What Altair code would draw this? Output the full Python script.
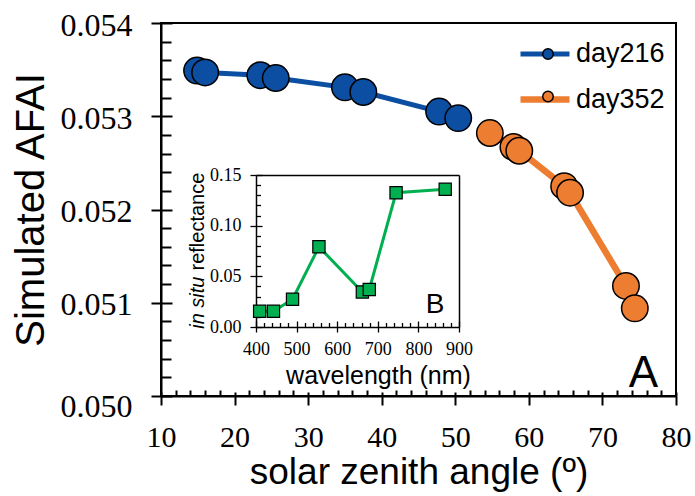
import altair as alt
import pandas as pd

# ---------------- data ----------------
series = ["day216", "day352"]
colors = ["#0b4ea2", "#ed7d31"]
sza_216 = [14.9, 16.0, 23.5, 25.6, 35.0, 37.5, 47.8, 50.4]
afai_216 = [0.05349, 0.05347, 0.05344, 0.05341, 0.05331, 0.05326, 0.05305, 0.05298]
sza_352 = [54.7, 57.9, 58.7, 64.8, 65.6, 73.2, 74.4]
afai_352 = [0.05282, 0.05267, 0.05263, 0.05225, 0.05218, 0.05118, 0.05094]

wavelength = [409, 443, 490, 555, 662, 679, 745, 866]
reflectance = [0.0155, 0.0155, 0.0274, 0.0791, 0.0346, 0.0370, 0.1325, 0.1359]

x_major = [10, 20, 30, 40, 50, 60, 70, 80]
x_minor = [v for v in range(12, 80, 2) if v % 10]
y_major = [0.050, 0.051, 0.052, 0.053, 0.054]
y_minor = [round(0.050 + 0.0002 * i, 4) for i in range(1, 20) if i % 5]
in_x_major = [400, 500, 600, 700, 800, 900]
in_x_minor = [v for v in range(420, 900, 20) if v % 100]
in_y_major = [0.0, 0.05, 0.10, 0.15]
in_y_minor = [round(0.01 * i, 2) for i in range(1, 15) if i % 5]
panel_labels = ["A", "B"]

main_df = pd.DataFrame({
    "sza": sza_216 + sza_352,
    "afai": afai_216 + afai_352,
    "series": [series[0]] * len(sza_216) + [series[1]] * len(sza_352),
})
inset_df = pd.DataFrame({"wl": wavelength, "refl": reflectance})

# ---------------- geometry ----------------
W, H = 515, 373
IN_L, IN_R, IN_T, IN_B = 95, 298, 152, 304

SERIF = "Liberation Serif"
SANS = "Liberation Sans"

xs_main = alt.Scale(domain=[10, 80], nice=False, zero=False)
ys_main = alt.Scale(domain=[0.050, 0.054], nice=False, zero=False)
xs_in = alt.Scale(domain=[400, 900], range=[IN_L, IN_R], nice=False, zero=False)
ys_in = alt.Scale(domain=[0, 0.15], range=[IN_B, IN_T], nice=False, zero=False)


def tick_axis(orient, values, offset, size, width):
    return alt.Axis(orient=orient, values=values, offset=offset, tickSize=size,
                    tickWidth=width, labels=False, domain=False, title=None, grid=False)


def xlayer(df, field, scale, axis):
    return alt.Chart(df).mark_point(opacity=0).encode(
        x=alt.X(field, type="quantitative", scale=scale, axis=axis))


def ylayer(df, field, scale, axis):
    return alt.Chart(df).mark_point(opacity=0).encode(
        y=alt.Y(field, type="quantitative", scale=scale, axis=axis))


# ---------------- main plot ----------------
main_x_axis = alt.Axis(
    orient="bottom", values=x_major, format="d", tickSize=9, tickWidth=2,
    domainWidth=2, labelFont=SERIF, labelFontSize=30, labelPadding=41,
    labelBaseline="alphabetic", labelFlush=False, labelOverlap=False,
    title="solar zenith angle (º)", titleFont=SANS, titleFontSize=37,
    titleFontWeight="normal", titleX=257.5, titleY=87, titleAlign="center",
    titleBaseline="alphabetic", grid=False)

main_y_axis = alt.Axis(
    orient="left", values=y_major, format=".3f", tickSize=10, tickWidth=2,
    domainWidth=2, labelFont=SERIF, labelFontSize=32, labelPadding=19,
    labelBaseline="middle", labelFlush=False, labelOverlap=False,
    labelOffset={"condition": {"test": "datum.value < 0.0505", "value": 10}, "value": 2},
    title="Simulated AFAI", titleFont=SANS, titleFontSize=40,
    titleFontWeight="normal", titleAngle=270, titleX=-118, titleY=186.5,
    titleAlign="center", titleBaseline="alphabetic", grid=False)

main_line = alt.Chart(main_df).mark_line().encode(
    x=alt.X("sza:Q", scale=xs_main, axis=main_x_axis),
    y=alt.Y("afai:Q", scale=ys_main, axis=main_y_axis),
    color=alt.Color("series:N", scale=alt.Scale(domain=series, range=colors),
                    legend=alt.Legend(
                        orient="none", legendX=356, legendY=19, title=None,
                        symbolType="stroke", symbolSize=2401, symbolStrokeWidth=4.5,
                        labelFont=SANS, labelFontSize=27, labelOffset=3,
                        labelColor="black", rowPadding=18.5, padding=0,
                        clipHeight=24)),
    strokeWidth=alt.StrokeWidth("series:O", scale=alt.Scale(domain=series, range=[5, 6.5]),
                                legend=None),
)

main_points = alt.Chart(main_df).mark_point(
    shape="circle", filled=True, size=700, stroke="black", strokeWidth=1.5,
    opacity=1, fillOpacity=1).encode(
    x=alt.X("sza:Q", scale=xs_main, axis=None),
    y=alt.Y("afai:Q", scale=ys_main, axis=None),
    fill=alt.Fill("series:N", scale=alt.Scale(range=colors), legend=alt.Legend(
        orient="none", legendX=375, legendY=19, title=None, symbolType="circle",
        symbolSize=110, symbolStrokeColor="black", symbolStrokeWidth=1.5,
        labelExpr="''", labelFontSize=24, rowPadding=18.5,
        padding=0, clipHeight=24, zindex=1)),
)

main_axes = [
    xlayer(main_df, "sza", xs_main, tick_axis("bottom", x_major, -4, 4, 2)),
    xlayer(main_df, "sza", xs_main, tick_axis("bottom", x_minor, -6, 6, 2)),
    ylayer(main_df, "afai", ys_main, tick_axis("left", y_major, -11, 11, 2)),
    ylayer(main_df, "afai", ys_main, tick_axis("left", y_minor, -10, 10, 2)),
]

# ---------------- inset ----------------
in_x_axis = alt.Axis(
    orient="bottom", offset=-(H - IN_B), values=in_x_major, format="d",
    tickSize=5, tickWidth=1.3, domainWidth=1.5, labelFont=SERIF, labelFontSize=18,
    labelPadding=22, labelBaseline="alphabetic", labelFlush=False, labelOverlap=False,
    title="wavelength (nm)", titleFont=SANS, titleFontSize=25, titleFontWeight="normal",
    titleX=217, titleY=56, titleAlign="center", titleBaseline="alphabetic", grid=False)

in_y_axis = alt.Axis(
    orient="left", offset=-IN_L, values=in_y_major, format=".2f",
    tickSize=6, tickWidth=1.3, domainWidth=1.5, labelFont=SERIF, labelFontSize=18,
    labelPadding=9, labelBaseline="middle", labelFlush=False, labelOverlap=False,
    title="reflectance", titleFont=SANS, titleFontSize=20, titleFontWeight="normal",
    titleAngle=270, titleX=-53, titleY=247, titleAlign="left",
    titleBaseline="alphabetic", grid=False)

in_y_axis_in = alt.Axis(
    orient="left", offset=-(IN_L + 6), values=in_y_major, tickSize=6, tickWidth=1.3,
    labels=False, domain=False, grid=False,
    title="in situ", titleFont=SANS, titleFontSize=20, titleFontWeight="normal",
    titleFontStyle="italic", titleAngle=270, titleX=-59, titleY=253,
    titleAlign="right", titleBaseline="alphabetic")

inset_line = alt.Chart(inset_df).mark_line(color="#00b050", strokeWidth=3).encode(
    x=alt.X("wl:Q", scale=xs_in, axis=in_x_axis),
    y=alt.Y("refl:Q", scale=ys_in, axis=in_y_axis),
)
inset_points = alt.Chart(inset_df).mark_point(
    shape="square", filled=True, size=150, fill="#00b050", stroke="black",
    strokeWidth=1.2, opacity=1, fillOpacity=1).encode(
    x=alt.X("wl:Q", scale=xs_in, axis=None),
    y=alt.Y("refl:Q", scale=ys_in, axis=None),
)

frame_top = alt.Axis(orient="top", offset=-IN_T, ticks=False, labels=False,
                     domain=True, domainWidth=1.5, title=None, grid=False)
frame_right = alt.Axis(orient="right", offset=IN_R - W, ticks=False, labels=False,
                       domain=True, domainWidth=1.5, title=None, grid=False)

inset_axes = [
    xlayer(inset_df, "wl", xs_in, tick_axis("bottom", in_x_major, -(H - IN_B) - 6, 6, 1.3)),
    xlayer(inset_df, "wl", xs_in, tick_axis("bottom", in_x_minor, -(H - IN_B) - 4.5, 4.5, 1.3)),
    ylayer(inset_df, "refl", ys_in, in_y_axis_in),
    ylayer(inset_df, "refl", ys_in, tick_axis("left", in_y_minor, -(IN_L + 4.5), 4.5, 1.3)),
    xlayer(inset_df, "wl", xs_in, frame_top),
    ylayer(inset_df, "refl", ys_in, frame_right),
]

# ---------------- panel letters ----------------
label_a = alt.Chart(pd.DataFrame({"t": [panel_labels[0]]})).mark_text(
    font=SANS, fontSize=44, align="center", baseline="alphabetic", color="black").encode(
    x=alt.value(482.5), y=alt.value(363.7), text="t:N")
label_b = alt.Chart(pd.DataFrame({"t": [panel_labels[1]]})).mark_text(
    font=SANS, fontSize=28, align="center", baseline="alphabetic", color="black").encode(
    x=alt.value(274), y=alt.value(290), text="t:N")

chart = alt.layer(
    main_line, main_points, *main_axes,
    inset_line, inset_points, *inset_axes,
    label_a, label_b,
).resolve_scale(
    x="independent", y="independent"
).properties(
    width=W, height=H,
    autosize=alt.AutoSizeParams(type="none"),
    padding={"left": 161, "top": 23, "right": 19, "bottom": 100},
).configure_view(
    stroke="black", strokeWidth=2
).configure_axis(
    grid=False, domainColor="black", tickColor="black", labelColor="black",
    titleColor="black"
)

chart.save("out.html", embed_options={"renderer": "svg", "actions": False})
